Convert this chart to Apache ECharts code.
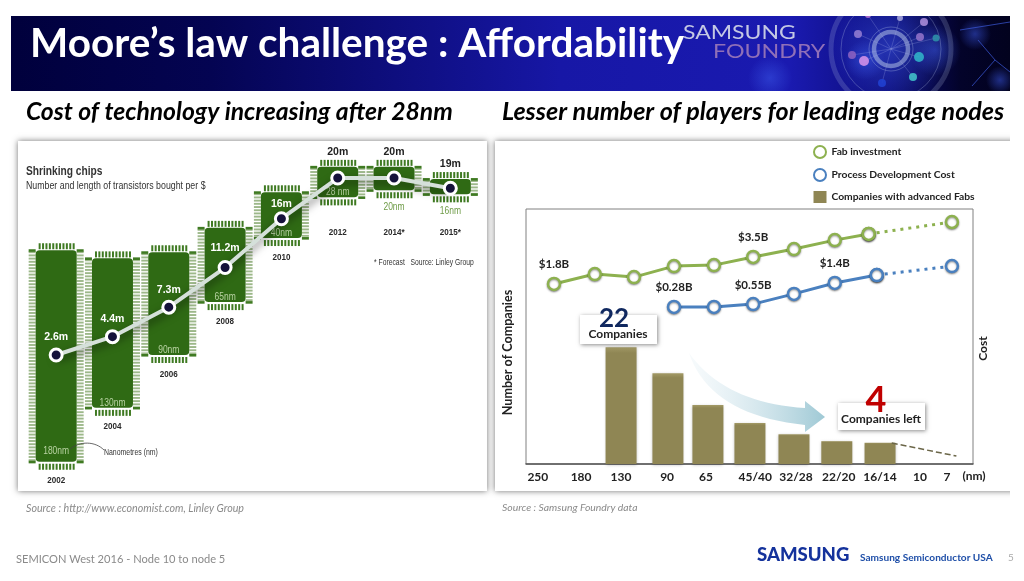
<!DOCTYPE html>
<html>
<head>
<meta charset="utf-8">
<title>Moore's law challenge : Affordability</title>
<style>
  html, body { margin: 0; padding: 0; background: #fff; }
  .chart { width: 1024px; height: 581px; }
</style>
<script src="https://cdn.jsdelivr.net/npm/echarts@6/dist/echarts.min.js"></script>
</head>
<body>
<div class="chart"></div>
<script>
// left chart: transistors per $ (millions) and chip size
var years = ['2002', '2004', '2006', '2008', '2010', '2012', '2014*', '2015*'];
var transistors = [2.6, 4.4, 7.3, 11.2, 16, 20, 20, 19];
var nodeSizes = ['180nm', '130nm', '90nm', '65nm', '40nm', '28 nm', '20nm', '16nm'];
// extent of each chip body, read on the transistor scale
var chipHigh = [12.9, 12.1, 12.7, 15.1, 18.6, 21.1, 21.1, 19.9];
var chipLow = [-7.9, -2.6, 2.6, 7.8, 14.1, 18.1, 18.8, 18.4];

// right chart: node labels and where they sit on the node scale
var nodeLabels = ['250', '180', '130', '90', '65', '45/40', '32/28', '22/20', '16/14', '10', '7'];
var nodeLabelPos = [-0.4, 0.67, 1.66, 2.8, 3.76, 4.98, 5.99, 7.05, 8.07, 9.06, 9.73];
var barNodes = [1.66, 2.82, 3.81, 4.85, 5.94, 7, 8.07];
var companies = [22, 17.1, 11.1, 7.7, 5.6, 4.3, 4];
var trendNodes = [8.36, 9.96];
var trendCompanies = [3.95, 1.5];
var fabNodes = [0, 1.01, 1.98, 2.97, 3.96, 4.93, 5.94, 6.95, 7.79, 9.85];
var fabCost = [70.6, 74.5, 73.3, 77.6, 78, 81.2, 84.3, 87.8, 90.2, 94.9];
var fabLabels = ['$1.8B', '', '', '', '', '$3.5B', '', '', '', ''];
var devNodes = [2.97, 3.96, 4.93, 5.94, 6.95, 7.99, 9.85];
var devCost = [61.6, 61.6, 62.7, 66.7, 71, 74.1, 77.6];
var devLabels = ['$0.28B', '', '$0.55B', '', '$1.4B', '', ''];

var LATO = 'Lato, "Open Sans", sans-serif';
var SANS = '"Liberation Sans", sans-serif';
var GREEN = '#8db14f';
var BLUE = '#4a80bf';
var OLIVE = '#8f8654';
// gap between a point and its value label on the left chart
var labelGaps = [5, 5, 4, 6, 2, 13, 13, 11];

function pairs(xs, ys) {
  return xs.map(function (x, i) { return [x, ys[i]]; });
}

function txt(text, x, y, font, fill, align, scaleX) {
  return {
    type: 'text', x: x, y: y, z: 20, silent: true, scaleX: scaleX || 1,
    style: { text: text, font: font, fill: fill, align: align || 'left', verticalAlign: 'middle' }
  };
}

function whiteBox(x, y, w, h) {
  return {
    type: 'rect', z: 12, silent: true,
    shape: { x: x, y: y, width: w, height: h },
    style: { fill: '#fff', shadowBlur: 4, shadowOffsetX: 1, shadowOffsetY: 1, shadowColor: 'rgba(0,0,0,.45)' }
  };
}

function whiteMask(x, y, w, h) {
  return { type: 'rect', z: -2.5, silent: true, shape: { x: x, y: y, width: w, height: h }, style: { fill: '#fff' } };
}

// banner decoration
function bannerDecor() {
  var out = [];
  var glows = [[770, 78, 22], [865, 60, 20], [935, 50, 26], [891, 49, 62], [975, 34, 16], [1000, 80, 14]];
  glows.forEach(function (g) {
    out.push({
      type: 'circle', z: -5, silent: true,
      shape: { cx: g[0], cy: g[1], r: g[2] },
      style: { fill: new echarts.graphic.RadialGradient(0.5, 0.5, 0.5, [
        { offset: 0, color: 'rgba(60,90,235,.5)' },
        { offset: 1, color: 'rgba(60,90,235,0)' }
      ]) }
    });
  });
  var rings = [[17, 4.5, .5], [22, 1, .3], [50, 1, .28], [60, 5, .2]];
  rings.forEach(function (r) {
    out.push({
      type: 'circle', z: -4, silent: true,
      shape: { cx: 891, cy: 49, r: r[0] },
      style: { fill: 'none', stroke: 'rgba(190,205,235,' + r[2] + ')', lineWidth: r[1] }
    });
  });
  var dots = [
    [858, 34, 4, '#8f7ad0'], [924, 22, 4, '#a98bd8'], [920, 37, 4, '#8f70c8'], [936, 38, 3.5, '#2f8fa8'],
    [852, 55, 4, '#8a60c0'], [864, 61, 5, '#d090e8'], [919, 57, 5, '#30b0c8'], [913, 77, 4, '#40c0c8'],
    [882, 83, 4, '#2040d0'], [868, 15, 3, '#b070d0'], [900, 18, 3, '#a0a0d8']
  ];
  dots.forEach(function (d) {
    // thin circuit trace from the hub to each dot
    out.push({
      type: 'line', z: -4, silent: true,
      shape: { x1: 891, y1: 49, x2: d[0], y2: d[1] },
      style: { stroke: 'rgba(170,180,235,.3)', lineWidth: 0.8 }
    });
    out.push({
      type: 'circle', z: -3, silent: true,
      shape: { cx: d[0], cy: d[1], r: d[2] },
      style: { fill: d[3], opacity: .9 }
    });
  });
  // network lines at the far right
  [[972, 86, 995, 60], [995, 60, 1010, 72], [995, 60, 978, 40], [960, 30, 1010, 22]].forEach(function (l) {
    out.push({
      type: 'line', z: -4, silent: true,
      shape: { x1: l[0], y1: l[1], x2: l[2], y2: l[3] },
      style: { stroke: 'rgba(60,90,220,.7)', lineWidth: 1 }
    });
  });
  return out;
}

// one chip: body, pins and its node / year captions
function renderChip(params, api) {
  var i = api.value(0);
  var top = api.coord([i, api.value(1)]);
  var bottom = api.coord([i, api.value(2)]);
  var cx = top[0], y0 = top[1], y1 = bottom[1];
  var half = 20.5;
  var pin = '#9db88a';
  var tab = '#3f7a22';
  var kids = [];
  // top and bottom pins
  for (var k = 0; k < 11; k++) {
    var px = cx - 17.5 + k * 3.4;
    kids.push({ type: 'rect', shape: { x: px, y: y0 - 7, width: 2, height: 6 }, style: { fill: '#3f7a22' } });
    kids.push({ type: 'rect', shape: { x: px, y: y1 + 2, width: 2, height: 6 }, style: { fill: '#3f7a22' } });
  }
  // side pins
  for (var y = y0 + 1; y < y1 - 1; y += 3.2) {
    kids.push({ type: 'rect', shape: { x: cx - half - 7, y: y, width: 7, height: 1.9 }, style: { fill: pin } });
    kids.push({ type: 'rect', shape: { x: cx + half, y: y, width: 7, height: 1.9 }, style: { fill: pin } });
  }
  [y0 - 1, y1 - 1].forEach(function (tabY) {
    kids.push({ type: 'rect', shape: { x: cx - half - 7, y: tabY, width: 7, height: 2.6 }, style: { fill: tab } });
    kids.push({ type: 'rect', shape: { x: cx + half, y: tabY, width: 7, height: 2.6 }, style: { fill: tab } });
  });
  kids.push({
    type: 'rect',
    shape: { x: cx - half, y: y0, width: half * 2, height: y1 - y0, r: 4 },
    style: { fill: '#2f6a14' }
  });
  var inside = i < 6;
  kids.push({
    type: 'text', x: cx, y: inside ? y1 - (i === 0 ? 10 : 5) : y1 + 17, scaleX: 0.85,
    style: {
      text: nodeSizes[i], align: 'center', verticalAlign: 'middle',
      font: '10px ' + SANS, fill: inside ? '#b9d3a3' : '#6f9c48'
    }
  });
  kids.push({
    type: 'text', x: cx, y: Math.max(y1 + 19, 232), scaleX: 0.85,
    style: {
      text: years[i], align: 'center', verticalAlign: 'middle',
      font: 'bold 9.5px ' + SANS, fill: '#2a2a2a'
    }
  });
  return { type: 'group', children: kids };
}

// quadratic curve sampled for the trend arrow outline
function quad(p0, p1, p2) {
  var pts = [];
  for (var t = 0; t <= 1.001; t += 0.05) {
    var a = (1 - t) * (1 - t), b = 2 * t * (1 - t), c = t * t;
    pts.push([a * p0[0] + b * p1[0] + c * p2[0], a * p0[1] + b * p1[1] + c * p2[1]]);
  }
  return pts;
}

var myChart = echarts.init(document.querySelector('.chart'));
var option = {
  animation: false,
  backgroundColor: '#fff',
  textStyle: { fontFamily: LATO },
  grid: [
    { left: 28, top: 127.2, width: 450.5, height: 355.9 },
    { left: 526, top: 209, width: 447, height: 255, show: true, borderColor: '#808080', borderWidth: 1 }
  ],
  xAxis: [
    { type: 'category', gridIndex: 0, data: years, show: false },
    {
      type: 'value', gridIndex: 1, min: -0.693, max: 10.371,
      splitLine: { show: false },
      axisTick: { show: false },
      axisLine: { show: true, lineStyle: { color: '#555', width: 1.5 } },
      axisLabel: {
        customValues: nodeLabelPos,
        showMinLabel: true, showMaxLabel: true,
        margin: 7, color: '#222', fontSize: 12, fontWeight: 'bold',
        formatter: function (val) { return nodeLabels[nodeLabelPos.indexOf(val)]; }
      }
    }
  ],
  yAxis: [
    { type: 'value', gridIndex: 0, min: -10, max: 25, show: false },
    {
      type: 'value', gridIndex: 1, min: 0, max: 48,
      axisLine: { show: false }, axisTick: { show: false }, axisLabel: { show: false }, splitLine: { show: false },
      name: 'Number of Companies', nameLocation: 'middle', nameGap: 12, nameRotate: 90,
      nameTextStyle: { color: '#222', fontSize: 12.6, fontWeight: 'bold', padding: [0, 32, 0, 0] }
    },
    {
      type: 'value', gridIndex: 1, min: 0, max: 100, position: 'right',
      axisLine: { show: false }, axisTick: { show: false }, axisLabel: { show: false }, splitLine: { show: false },
      name: 'Cost', nameLocation: 'middle', nameGap: 4, nameRotate: 90,
      nameTextStyle: { color: '#222', fontSize: 12, fontWeight: 'bold', padding: [0, 24, 0, 0] }
    }
  ],
  legend: {
    orient: 'vertical', left: 808, top: 140, itemWidth: 13, itemHeight: 12, itemGap: 9,
    selectedMode: false,
    textStyle: { color: '#222', fontSize: 10.3, fontWeight: 'bold' },
    data: [
      { name: 'Fab investment', icon: 'circle', itemStyle: { color: '#fff', borderColor: GREEN, borderWidth: 2 } },
      { name: 'Process Development Cost', icon: 'circle', itemStyle: { color: '#fff', borderColor: BLUE, borderWidth: 2 } },
      { name: 'Companies with advanced Fabs', icon: 'rect', itemStyle: { color: OLIVE } }
    ]
  },
  series: [
    // chips
    {
      type: 'custom', xAxisIndex: 0, yAxisIndex: 0, z: 2,
      renderItem: renderChip,
      encode: { x: 0, y: [1, 2] },
      data: chipHigh.map(function (v, i) { return [i, v, chipLow[i]]; })
    },
    // transistors per $
    {
      type: 'line', xAxisIndex: 0, yAxisIndex: 0, z: 4,
      symbol: 'circle', symbolSize: 12,
      lineStyle: { color: '#d5e0da', width: 4, shadowColor: 'rgba(0,0,0,.55)', shadowBlur: 8, shadowOffsetY: 4 },
      itemStyle: { color: '#15123a', borderColor: '#fff', borderWidth: 3 },
      label: {
        show: true, position: 'top', fontFamily: SANS, fontSize: 10.5, fontWeight: 'bold',
        formatter: function (p) { return p.value + 'm'; }
      },
      data: transistors.map(function (v, i) {
        return { value: v, label: { color: i < 5 ? '#fff' : '#222', distance: labelGaps[i] } };
      })
    },
    // companies with advanced fabs
    {
      name: 'Companies with advanced Fabs', type: 'bar', xAxisIndex: 1, yAxisIndex: 1, z: 3,
      barWidth: 31,
      itemStyle: {
        color: new echarts.graphic.LinearGradient(0, 0, 0, 1, [
          { offset: 0, color: '#a39a66' }, { offset: 0.05, color: OLIVE }, { offset: 1, color: OLIVE }
        ]),
        shadowColor: 'rgba(0,0,0,.25)', shadowBlur: 3, shadowOffsetY: 1
      },
      data: pairs(barNodes, companies)
    },
    {
      type: 'line', xAxisIndex: 1, yAxisIndex: 1, z: 3, symbol: 'none',
      lineStyle: { color: '#6b6648', width: 1.5, type: 'dashed' },
      data: pairs(trendNodes, trendCompanies)
    },
    // fab investment, solid then dotted forecast
    {
      name: 'Fab investment', type: 'line', xAxisIndex: 1, yAxisIndex: 2, z: 5,
      symbol: 'circle', symbolSize: 12,
      lineStyle: { color: GREEN, width: 3 },
      itemStyle: { color: '#fff', borderColor: GREEN, borderWidth: 2.5, shadowColor: 'rgba(0,0,0,.4)', shadowBlur: 2, shadowOffsetY: 1 },
      data: pairs(fabNodes, fabCost).slice(0, 9).map(function (d, i) {
        return {
          value: d,
          label: { show: !!fabLabels[i], position: 'top', distance: 6, formatter: fabLabels[i], color: '#222', fontSize: 11.5, fontWeight: 'bold' }
        };
      })
    },
    {
      name: 'Fab investment', type: 'line', xAxisIndex: 1, yAxisIndex: 2, z: 4,
      symbol: 'circle', symbolSize: 12, lineStyle: { color: GREEN, width: 3, type: [3, 5] },
      itemStyle: { color: '#fff', borderColor: GREEN, borderWidth: 2.5, shadowColor: 'rgba(0,0,0,.4)', shadowBlur: 2, shadowOffsetY: 1 },
      data: pairs(fabNodes, fabCost).slice(8)
    },
    // process development cost, solid then dotted forecast
    {
      name: 'Process Development Cost', type: 'line', xAxisIndex: 1, yAxisIndex: 2, z: 5,
      symbol: 'circle', symbolSize: 12,
      lineStyle: { color: BLUE, width: 3 },
      itemStyle: { color: '#fff', borderColor: BLUE, borderWidth: 2.5, shadowColor: 'rgba(0,0,0,.4)', shadowBlur: 2, shadowOffsetY: 1 },
      data: pairs(devNodes, devCost).slice(0, 6).map(function (d, i) {
        return {
          value: d,
          label: { show: !!devLabels[i], position: 'top', distance: 6, formatter: devLabels[i], color: '#222', fontSize: 11.5, fontWeight: 'bold' }
        };
      })
    },
    {
      name: 'Process Development Cost', type: 'line', xAxisIndex: 1, yAxisIndex: 2, z: 4,
      symbol: 'circle', symbolSize: 12, lineStyle: { color: BLUE, width: 3, type: [3, 5] },
      itemStyle: { color: '#fff', borderColor: BLUE, borderWidth: 2.5, shadowColor: 'rgba(0,0,0,.4)', shadowBlur: 2, shadowOffsetY: 1 },
      data: pairs(devNodes, devCost).slice(5)
    }
  ],
  graphic: [
    // banner
    {
      type: 'rect', z: -6, silent: true,
      shape: { x: 11, y: 16, width: 999, height: 75 },
      style: { fill: new echarts.graphic.LinearGradient(0, 0, 1, 0, [
        { offset: 0, color: '#00003c' },
        { offset: 0.2, color: '#040452' },
        { offset: 0.55, color: '#1717a6' },
        { offset: 0.78, color: '#1a1ab0' },
        { offset: 0.88, color: '#0c0c78' },
        { offset: 0.95, color: '#03032a' },
        { offset: 1, color: '#02021e' }
      ]) }
    }
  ].concat(bannerDecor(), [
    whiteMask(0, 0, 1024, 16),
    whiteMask(0, 91, 1024, 30),
    whiteMask(1010, 0, 14, 130),
    txt('Moore\u2019s law challenge : Affordability', 30, 44, 'bold 40.5px ' + LATO, '#fff'),
    txt('SAMSUNG', 683, 33, '20px ' + LATO, '#c4c8e4', 'left', 1.15),
    txt('FOUNDRY', 713, 52, '20px ' + LATO, '#9070b8', 'left', 1.16),
    txt('Cost of technology increasing after 28nm', 26, 112, 'italic bold 24.7px ' + LATO, '#000'),
    txt('Lesser number of players for leading edge nodes', 502, 112, 'italic bold 25.1px ' + LATO, '#000'),
    // panels
    {
      type: 'rect', z: -2, silent: true,
      shape: { x: 18, y: 141, width: 469, height: 350 },
      style: { fill: '#fff', shadowBlur: 6, shadowColor: 'rgba(0,0,0,.55)' }
    },
    {
      type: 'rect', z: -2, silent: true,
      shape: { x: 495, y: 141, width: 540, height: 350 },
      style: { fill: '#fff', shadowBlur: 6, shadowColor: 'rgba(0,0,0,.55)' }
    },
    {
      type: 'rect', z: -1, silent: true,
      shape: { x: 1010, y: 100, width: 14, height: 440 },
      style: { fill: '#fff' }
    },
    // left panel captions
    txt('Shrinking chips', 26, 172, 'bold 12px ' + SANS, '#333', 'left', 0.85),
    txt('Number and length of transistors bought per $', 26, 186, '10px ' + SANS, '#333', 'left', 0.88),
    txt('* Forecast   Source: Linley Group', 374, 263, '9px ' + SANS, '#333', 'left', 0.75),
    txt('Nanometres (nm)', 104, 453, '9px ' + SANS, '#333', 'left', 0.77),
    {
      type: 'bezierCurve', z: 6, silent: true,
      shape: { x1: 70, y1: 449, x2: 104, y2: 450, cpx1: 80, cpy1: 441, cpx2: 95, cpy2: 441 },
      style: { fill: 'none', stroke: '#444', lineWidth: 0.8 }
    },
    // trend arrow
    {
      type: 'polygon', z: 3, silent: true,
      shape: {
        points: quad([689, 353], [725, 403], [805, 408])
          .concat([[805, 401], [825, 417], [805, 432]])
          .concat(quad([805, 425], [710, 415], [689, 353]))
      },
      style: { fill: new echarts.graphic.LinearGradient(0, 0, 1, 0, [
        { offset: 0, color: 'rgba(215,232,240,.2)' },
        { offset: 1, color: '#9fc9d5' }
      ]) }
    },
    // callouts
    whiteBox(580, 315, 77, 29),
    txt('22', 614, 319, 'bold 26px ' + LATO, '#10285f', 'center'),
    txt('Companies', 618, 334, 'bold 12px ' + LATO, '#222', 'center'),
    whiteBox(838, 403, 87, 27),
    txt('4', 876, 400, 'bold 36px ' + LATO, '#c00000', 'center'),
    txt('Companies left', 881, 419, 'bold 12px ' + LATO, '#222', 'center'),
    txt('(nm)', 974, 476, 'bold 12px ' + LATO, '#222', 'center'),
    // sources and footer
    txt('Source : http://www.economist.com, Linley Group', 26, 509, 'italic 10.7px ' + LATO, '#8a8a8a'),
    txt('Source : Samsung Foundry data', 502, 508, 'italic 10.4px ' + LATO, '#8a8a8a'),
    txt('SEMICON West 2016 - Node 10 to node 5', 16, 559, '11.1px ' + LATO, '#8a8a8a'),
    txt('SAMSUNG', 757, 555, '900 18px ' + LATO, '#14329c', 'left', 1.03),
    txt('Samsung Semiconductor USA', 860, 558, 'bold 10.1px ' + LATO, '#1f4fa8'),
    txt('5', 1008, 558, '10px ' + LATO, '#aaa')
  ])
};
myChart.setOption(option);
</script>
</body>
</html>
